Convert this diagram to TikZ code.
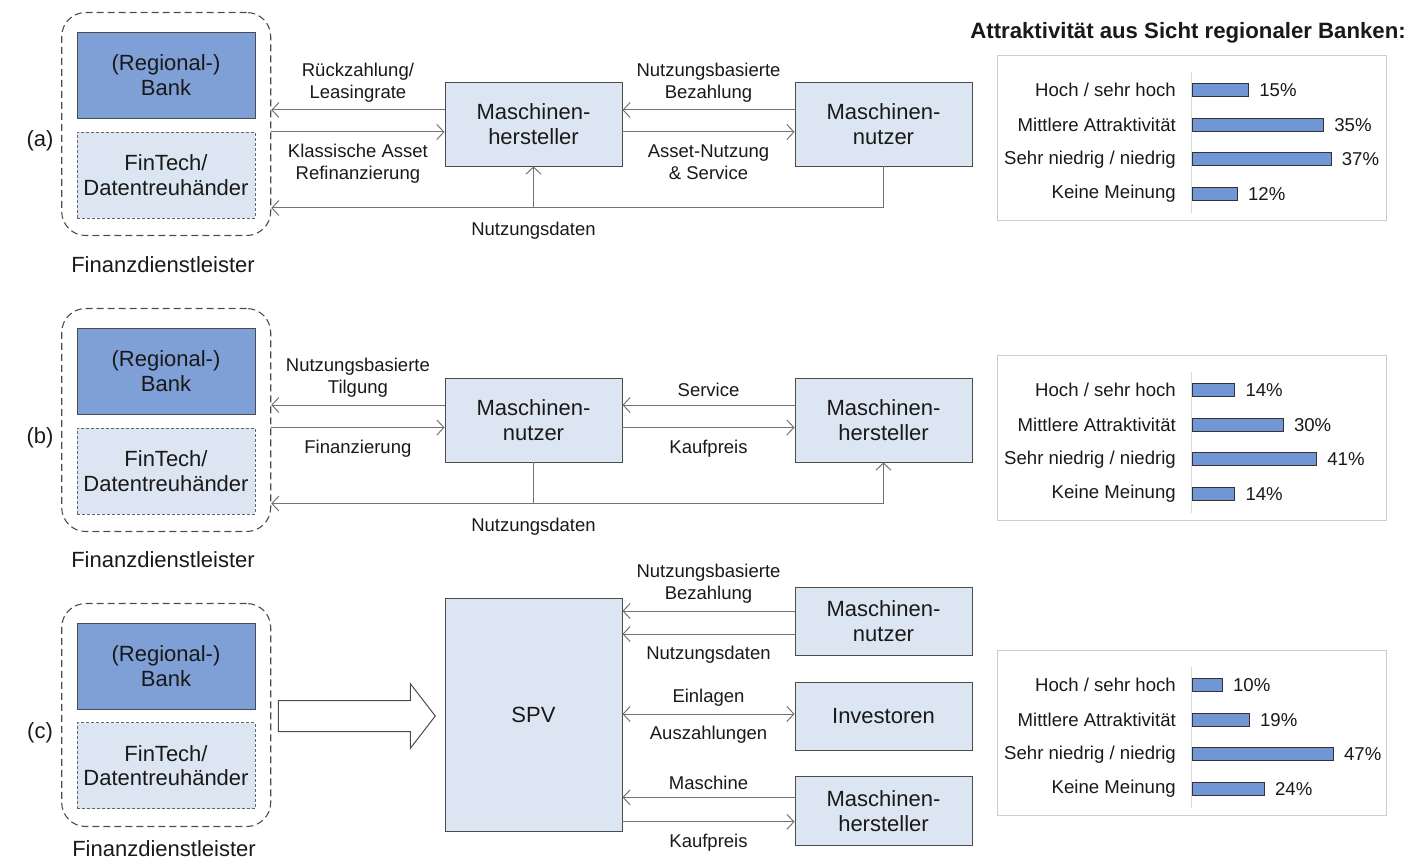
\documentclass[tikz,border=0pt]{standalone}
\usepackage{fontspec}
\setmainfont{Liberation Sans}
\usetikzlibrary{arrows.meta,positioning}

\definecolor{bankblue}{RGB}{126,160,215}
\definecolor{paleblue}{RGB}{220,230,243}
\definecolor{barblue}{RGB}{112,150,213}
\definecolor{flowgray}{RGB}{115,115,115}
\definecolor{framegray}{RGB}{205,205,205}
\definecolor{textdark}{RGB}{25,25,25}

\begin{document}
\begin{tikzpicture}[x=1pt,y=-1pt]
  \tikzstyle{every node}=[text=textdark]
  \tikzstyle{box}=[draw=black!70, fill=paleblue, line width=0.9pt, inner sep=2pt, minimum width=177pt, minimum height=84pt, align=center, font=\fontsize{22}{24.5}\selectfont]
  \tikzstyle{bankbox}=[box, fill=bankblue, minimum width=178pt, minimum height=86pt]
  \tikzstyle{techbox}=[box, draw=black!60, dash pattern=on 3pt off 2pt, minimum width=178pt, minimum height=86pt]
  \tikzstyle{group}=[draw=black!70, line width=1.1pt, dash pattern=on 7pt off 4pt, rounded corners=24pt, minimum width=209pt, minimum height=223pt]
  \tikzstyle{big}=[font=\fontsize{22}{24}\selectfont, inner sep=0pt]
  \tikzstyle{lbl}=[font=\fontsize{18.5}{22}\selectfont, align=center, inner sep=0pt]
  \tikzstyle{flow}=[draw=flowgray, line width=1pt, -{Straight Barb[length=7pt,width=15pt]}]
  \tikzstyle{flowboth}=[flow, {Straight Barb[length=7pt,width=15pt]}-{Straight Barb[length=7pt,width=15pt]}]
  \tikzstyle{hollow}=[draw=black!70, fill=white, line width=1pt]
  \tikzstyle{chartframe}=[draw=framegray, line width=1.2pt, minimum width=389pt, minimum height=165pt, inner sep=0pt]
  \tikzstyle{axis}=[draw=black!15, line width=1pt]
  \tikzstyle{bar}=[draw=black!80, fill=barblue, line width=0.9pt, minimum height=13pt, inner sep=0pt]
  \tikzstyle{cat}=[font=\fontsize{18.6}{21}\selectfont, inner sep=0pt]

  \useasboundingbox (0,0) rectangle (1419,861);

  \node[group] (fin-a) at (166.2,124) {};
  \node[bankbox] (bank-a) at (166,75.3) {(Regional-)\\Bank};
  \node[techbox] (tech-a) at (166,175) {FinTech/\\Datentreuhänder};
  \node[big] (fdl-a) at (163,265) {Finanzdienstleister};
  \node[big] (sec-a) at (40,141) {(a)};
  \node[box] (mh-a) at (533.5,124) {Maschinen-\\hersteller};
  \node[box] (mn-a) at (883.5,124) {Maschinen-\\nutzer};
  \coordinate (nd-a) at (533.5,208);
  \draw[flow] ([yshift=14pt]mh-a.west) -- ([yshift=14pt]fin-a.east)
    node[lbl, midway, above=7.5pt] (l-a1) {Rückzahlung/\\Leasingrate};
  \draw[flow] ([yshift=-8pt]fin-a.east) -- ([yshift=-8pt]mh-a.west)
    node[lbl, midway, below=12pt] (l-a2) {Klassische Asset\\Refinanzierung};
  \draw[flow] ([yshift=14pt]mn-a.west) -- ([yshift=14pt]mh-a.east)
    node[lbl, midway, above=7.5pt] (l-a3) {Nutzungsbasierte\\Bezahlung};
  \draw[flow] ([yshift=-8pt]mh-a.east) -- ([yshift=-8pt]mn-a.west)
    node[lbl, midway, below=12pt] (l-a4) {Asset-Nutzung\\\& Service};
  \draw[flow] (mn-a.south) |- (fin-a.east |- nd-a);
  \draw[flow] (nd-a) -- (mh-a.south);
  \node[lbl, below=14pt of nd-a] (l-a5) {Nutzungsdaten};

  \node[group] (fin-b) at (166.2,420) {};
  \node[bankbox] (bank-b) at (166,371.3) {(Regional-)\\Bank};
  \node[techbox] (tech-b) at (166,471) {FinTech/\\Datentreuhänder};
  \node[big] (fdl-b) at (163,560) {Finanzdienstleister};
  \node[big] (sec-b) at (40,438) {(b)};
  \node[box] (mn-b) at (533.5,420) {Maschinen-\\nutzer};
  \node[box] (mh-b) at (883.5,420) {Maschinen-\\hersteller};
  \coordinate (nd-b) at (533.5,503.5);
  \draw[flow] ([yshift=15pt]mn-b.west) -- ([yshift=15pt]fin-b.east)
    node[lbl, midway, above=7.5pt] (l-b1) {Nutzungsbasierte\\Tilgung};
  \draw[flow] ([yshift=-7.5pt]fin-b.east) -- ([yshift=-7.5pt]mn-b.west)
    node[lbl, midway, below=12pt] (l-b2) {Finanzierung};
  \draw[flow] ([yshift=15pt]mh-b.west) -- ([yshift=15pt]mn-b.east)
    node[lbl, midway, above=7.5pt] (l-b3) {Service};
  \draw[flow] ([yshift=-7.5pt]mn-b.east) -- ([yshift=-7.5pt]mh-b.west)
    node[lbl, midway, below=12pt] (l-b4) {Kaufpreis};
  \draw[flow] (mn-b.south) |- (fin-b.east |- nd-b);
  \draw[flow] (nd-b) -| (mh-b.south);
  \node[lbl, below=14pt of nd-b] (l-b5) {Nutzungsdaten};

  \node[group] (fin-c) at (166.2,715) {};
  \node[bankbox] (bank-c) at (166,666.3) {(Regional-)\\Bank};
  \node[techbox] (tech-c) at (166,765.5) {FinTech/\\Datentreuhänder};
  \node[big] (fdl-c) at (164,849) {Finanzdienstleister};
  \node[big] (sec-c) at (40,733) {(c)};
  \node[box, minimum height=233pt] (spv) at (533.5,714.5) {SPV};
  \node[box, minimum height=68pt] (mn-c) at (883.5,621) {Maschinen-\\nutzer};
  \node[box, minimum height=68pt] (inv) at (883.5,716) {Investoren};
  \node[box, minimum height=69pt] (mh-c) at (883.5,811.3) {Maschinen-\\hersteller};
  \draw[hollow] ([xshift=7pt,yshift=14.5pt]fin-c.east) -- ++(132,0) -- ++(0,-17) -- ++(25,32.5)
    -- ++(-25,32.5) -- ++(0,-17) -- ++(-132,0) -- cycle;
  \draw[flow] ([yshift=10pt]mn-c.west) -- ([yshift=10pt]spv.east |- mn-c.west)
    node[lbl, midway, above=7.5pt] (l-c1) {Nutzungsbasierte\\Bezahlung};
  \draw[flow] ([yshift=-13pt]mn-c.west) -- ([yshift=-13pt]spv.east |- mn-c.west)
    node[lbl, midway, below=12pt] (l-c2) {Nutzungsdaten};
  \draw[flowboth] ([yshift=2pt]spv.east |- inv.west) -- ([yshift=2pt]inv.west)
    node[lbl, midway, above=7.5pt] (l-c3) {Einlagen}
    node[lbl, midway, below=12pt] (l-c4) {Auszahlungen};
  \draw[flow] ([yshift=14pt]mh-c.west) -- ([yshift=14pt]spv.east |- mh-c.west)
    node[lbl, midway, above=7.5pt] (l-c5) {Maschine};
  \draw[flow] ([yshift=-10.5pt]spv.east |- mh-c.west) -- ([yshift=-10.5pt]mh-c.west)
    node[lbl, midway, below=12pt] (l-c6) {Kaufpreis};

  \node[font=\bfseries\fontsize{22.2}{24}\selectfont, anchor=east, inner sep=0pt] (title) at (1406,33) {Attraktivität aus Sicht regionaler Banken:};
  \foreach \ch/\ytop/\scl/\va/\vb/\vc/\vd in {a/55/3.75/15/35/37/12, b/355/3.03/14/30/41/14, c/650/3.0/10/19/47/24}{
    \node[chartframe, anchor=north west] (chart-\ch) at (997,\ytop) {};
    \draw[axis] (1191,\ytop+17) -- (1191,\ytop+158);
    \foreach \val [count=\i] in {\va,\vb,\vc,\vd}{
      \node[bar, minimum width=\val*\scl, anchor=west] (bar-\ch-\i) at (1192,{\ytop+35+34.7*(\i-1)}) {};
      \node[cat, right=10pt of bar-\ch-\i] (pct-\ch-\i) {\val\%};
    }
    \foreach \txt [count=\i] in {Hoch / sehr hoch, Mittlere Attraktivität, Sehr niedrig / niedrig, Keine Meinung}
      \node[cat, anchor=east] (cat-\ch-\i) at (1176,{\ytop+35+34.7*(\i-1)}) {\txt};
  }
\end{tikzpicture}
\end{document}
